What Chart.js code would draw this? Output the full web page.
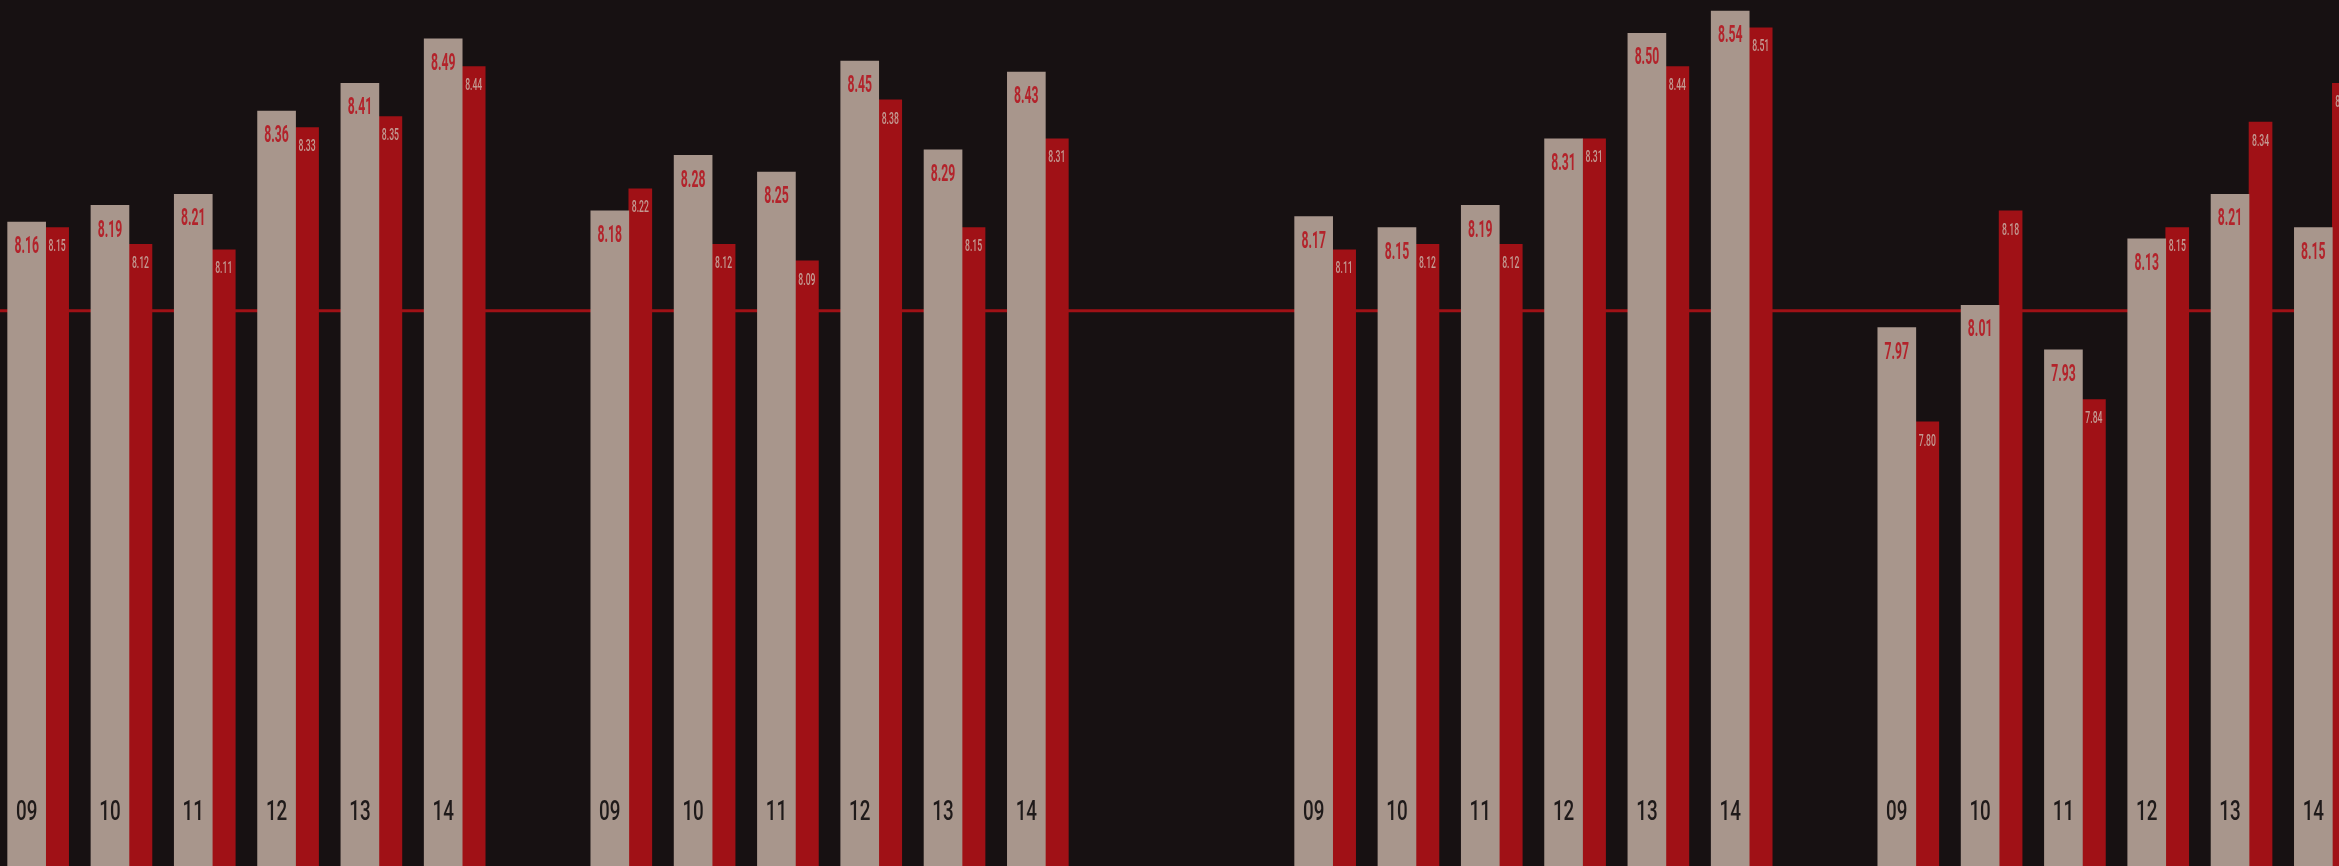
<!DOCTYPE html>
<html>
<head>
<meta charset="utf-8">
<script src="https://cdn.jsdelivr.net/npm/chart.js@4.4.1/dist/chart.umd.min.js"></script>
<style>
body{margin:0;background:#171112;overflow:hidden;width:2339px;height:866px;position:relative;}
#izq{position:absolute;left:0;top:0;width:1291px;height:866px;}
#der{position:absolute;left:1291px;top:0;width:1083px;height:866px;}
</style>
</head>
<body>
<div id="izq"><canvas id="graficoIzq" width="1291" height="866"></canvas></div>
<div id="der"><canvas id="graficoDer" width="1083" height="866"></canvas></div>
<script>
// datos
var anios=['09','10','11','12','13','14'];
var grupo1Claro=[8.16,8.19,8.21,8.36,8.41,8.49];
var grupo1Rojo=[8.15,8.12,8.11,8.33,8.35,8.44];
var grupo2Claro=[8.18,8.28,8.25,8.45,8.29,8.43];
var grupo2Rojo=[8.22,8.12,8.09,8.38,8.15,8.31];
var grupo3Claro=[8.17,8.15,8.19,8.31,8.50,8.54];
var grupo3Rojo=[8.11,8.12,8.12,8.31,8.44,8.51];
var grupo4Claro=[7.97,8.01,7.93,8.13,8.21,8.15];
var grupo4Rojo=[7.80,8.18,7.84,8.15,8.34,8.41];
var lineaRef=8.00;
var yMin=7.0;
var yMax=8.56;

var colorClaro='#a8968c';
var colorRojo='#a01116';
var textoRojo='#b3232b';
var textoClaro='#c39a92';
var textoAnio='#1f1a1a';

function texto(ctx,t,x,cy,size,escala,color,peso){
  ctx.save();
  ctx.translate(x,cy+size*0.711/2);
  ctx.scale(escala,1);
  ctx.font=peso+' '+size+'px Roboto';
  ctx.fillStyle=color;
  ctx.textAlign='center';
  ctx.textBaseline='alphabetic';
  ctx.fillText(t,0,0);
  ctx.restore();
}

var pluginTextos={
  id:'textos',
  beforeDatasetsDraw:function(chart){
    var ctx=chart.ctx;
    var y=chart.scales.y.getPixelForValue(lineaRef);
    ctx.save();
    ctx.strokeStyle=colorRojo;
    ctx.lineWidth=3;
    ctx.beginPath();
    ctx.moveTo(0,y);
    ctx.lineTo(chart.width,y);
    ctx.stroke();
    ctx.restore();
  },
  afterDatasetsDraw:function(chart){
    var ctx=chart.ctx;
    var claro=chart.getDatasetMeta(0);
    var rojo=chart.getDatasetMeta(1);
    var d0=chart.data.datasets[0].data;
    var d1=chart.data.datasets[1].data;
    var etiquetas=chart.data.labels;
    for(var i=0;i<d0.length;i++){
      if(d0[i]==null) continue;
      var b=claro.data[i];
      texto(ctx,d0[i].toFixed(2),b.x,b.y+23,23,0.53,textoRojo,'700');
      texto(ctx,etiquetas[i],b.x,810,28.5,0.66,textoAnio,'500');
      var r=rojo.data[i];
      texto(ctx,d1[i].toFixed(2),r.x,r.y+18,16,0.54,textoClaro,'500');
    }
  }
};

function crearGrafico(id,claro1,rojo1,claro2,rojo2,padIzq,padDer){
  var ctx=document.getElementById(id).getContext('2d');
  var etiquetas=anios.concat([''],anios);
  var datosClaro=claro1.concat([null],claro2);
  var datosRojo=rojo1.concat([null],rojo2);
  return new Chart(ctx,{
    type:'bar',
    data:{
      labels:etiquetas,
      datasets:[{
        data:datosClaro,
        backgroundColor:colorClaro,
        barThickness:38,
        borderWidth:0
      },{
        data:datosRojo,
        backgroundColor:colorRojo,
        barThickness:23,
        borderWidth:0
      }]
    },
    options:{
      responsive:false,
      animation:false,
      layout:{padding:{left:padIzq,right:padDer,top:0,bottom:0}},
      scales:{
        x:{display:false,offset:true},
        y:{display:false,min:yMin,max:yMax}
      },
      plugins:{
        legend:{display:false},
        tooltip:{enabled:false}
      }
    },
    plugins:[pluginTextos]
  });
}

var graficoIzq=crearGrafico('graficoIzq',grupo1Claro,grupo1Rojo,grupo2Claro,grupo2Rojo,4,204);
var graficoDer=crearGrafico('graficoDer',grupo3Claro,grupo3Rojo,grupo4Claro,grupo4Rojo,0,0);
</script>
</body>
</html>
